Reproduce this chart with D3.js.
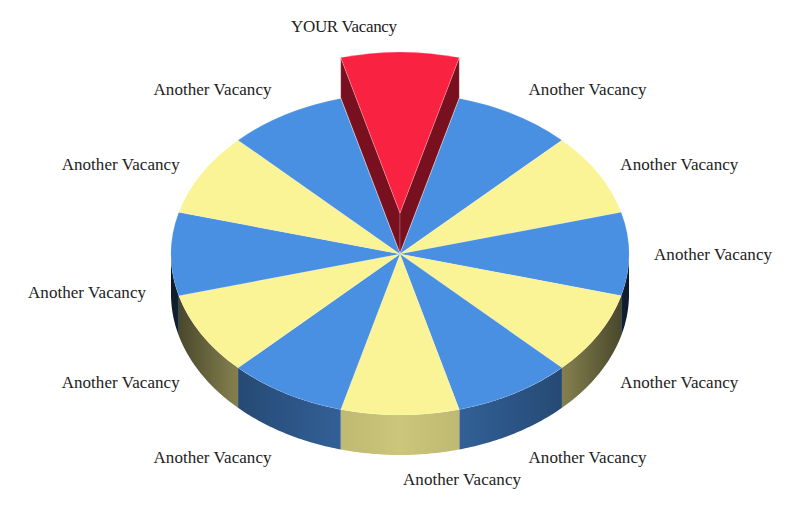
<!DOCTYPE html>
<html><head><meta charset="utf-8">
<script src="https://cdn.jsdelivr.net/npm/d3@7"></script>
<style>html,body{margin:0;padding:0;background:#fff}svg{display:block}</style>
</head><body><svg id="c" width="800" height="517"></svg>
<script>
(function(){
const categories = ["YOUR Vacancy","Another Vacancy","Another Vacancy","Another Vacancy","Another Vacancy","Another Vacancy","Another Vacancy","Another Vacancy","Another Vacancy","Another Vacancy","Another Vacancy","Another Vacancy"];
const values = [1,1,1,1,1,1,1,1,1,1,1,1];

const W=800,H=517,cx=400,cy=254,rx=229,ry=161,depth=40,lift=41;
const lrx=251,lry=187,pad=3;
const RED="#f92241",RED_DARK="#78101f",BLUE="#4a90e2",YELLOW="#fbf496";
const fillOf=i=> i===0?RED:(i%2?BLUE:YELLOW);
const svg=d3.select("#c");
const defs=svg.append("defs");
function grad(id,c,stops){
  const g=defs.append("linearGradient").attr("id",id).attr("gradientUnits","userSpaceOnUse")
    .attr("x1",cx-rx).attr("x2",cx+rx).attr("y1",0).attr("y2",0);
  stops.forEach(([o,k])=>{const q=d3.rgb(c);
    g.append("stop").attr("offset",o).attr("stop-color",d3.rgb(q.r*k,q.g*k,q.b*k).formatHex());});
}
const shade=[[0,.18],[.02,.24],[.13,.5],[.37,.67],[.5,.72],[.63,.67],[.87,.5],[.98,.24],[1,.18]];
grad("gb",BLUE,shade);
grad("gy",YELLOW,[[0,.2],[.02,.3],[.13,.5],[.37,.76],[.5,.81],[.63,.76],[.87,.5],[.98,.3],[1,.2]]);

const a0=-Math.PI/12;
const pie=d3.pie().sort(null).value(d=>d).startAngle(a0).endAngle(a0+2*Math.PI);
const slices=pie(values);
const arc=d3.arc().innerRadius(0).outerRadius(rx);
const px=a=>cx+rx*Math.sin(a), py=a=>cy-ry*Math.cos(a);

// outer walls, front half only
const wall=svg.append("g");
slices.forEach((s,i)=>{
  if(i===0) return;
  const a=Math.max(s.startAngle,Math.PI/2), b=Math.min(s.endAngle,3*Math.PI/2);
  if(b<=a) return;
  const n=40, angs=d3.range(n+1).map(k=>a+(b-a)*k/n);
  const pts=angs.map(t=>[px(t),py(t)+depth]).concat(angs.slice().reverse().map(t=>[px(t),py(t)]));
  wall.append("path").attr("d",d3.line()(pts)+"Z").attr("fill",i%2?"url(#gb)":"url(#gy)");
});

// top faces
const faces=svg.append("g").attr("transform",`translate(${cx},${cy}) scale(1,${ry/rx})`);
faces.selectAll("path").data(slices.slice(1)).join("path")
  .attr("d",arc).attr("fill",(d)=>fillOf(d.index))
  .attr("stroke","#fff").attr("stroke-opacity",.12).attr("stroke-width",.8)
  .attr("vector-effect","non-scaling-stroke");

// lifted slice
const s0=slices[0];
const hi=svg.append("g");
[s0.startAngle,s0.endAngle].forEach(t=>{
  const pts=[[px(t),py(t)-lift],[cx,cy-lift],[cx,cy-lift+depth],[px(t),py(t)-lift+depth]];
  hi.append("path").attr("d",d3.line()(pts)+"Z").attr("fill",RED_DARK)
    .attr("stroke","#fff").attr("stroke-opacity",.25).attr("stroke-width",.8);
});
hi.append("g").attr("transform",`translate(${cx},${cy-lift}) scale(1,${ry/rx})`)
  .append("path").attr("d",arc(s0)).attr("fill",RED)
  .attr("stroke","#fff").attr("stroke-opacity",.3).attr("stroke-width",.8)
  .attr("vector-effect","non-scaling-stroke");

// labels
const warp=m=>{const c=Math.cos(m),ac=Math.abs(c);
  return Math.sign(c)*(ac+.02*Math.sin(4*Math.acos(Math.min(ac,1))));};
svg.append("g").selectAll("text").data(slices).join("text")
  .attr("font-family","'Liberation Serif',serif").attr("font-size",17).attr("fill","#222")
  .attr("dominant-baseline","middle")
  .attr("text-anchor",(d,i)=> (i===0||i>6)?"end":"start")
  .attr("textLength",(d,i)=> i===0?106:118)
  .attr("x",(d,i)=>{const m=(d.startAngle+d.endAngle)/2,sgn=(i===0||i>6)?-1:1;return cx+lrx*Math.sin(m)+pad*sgn;})
  .attr("y",(d,i)=>{const m=(d.startAngle+d.endAngle)/2;
     let y=cy+2-lry*warp(m);
     if(i>3&&i<=9) y+=depth-2;
     if(i===0) y-=41;
     return y;})
  .text(d=>categories[d.index]);
})();
</script></body></html>
